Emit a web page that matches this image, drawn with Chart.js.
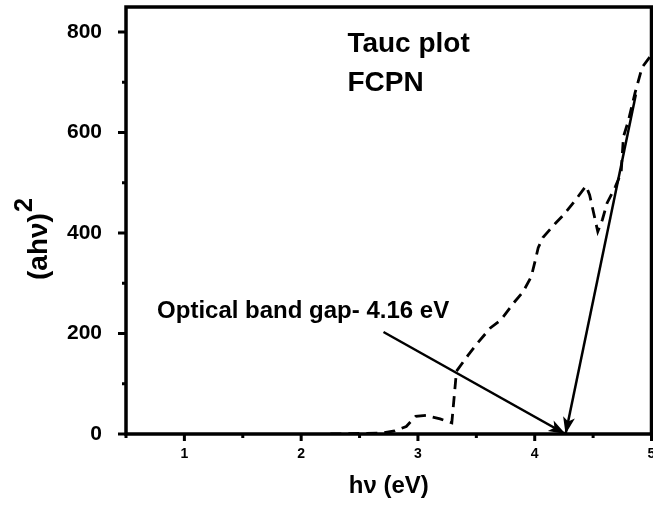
<!DOCTYPE html>
<html>
<head>
<meta charset="utf-8">
<script src="https://cdn.jsdelivr.net/npm/chart.js@4/dist/chart.umd.min.js"></script>
<style>
  html, body { margin: 0; padding: 0; background: #fff; overflow: hidden; }
  #wrap { width: 680px; height: 508px; }
</style>
</head>
<body>
<div id="wrap"><canvas id="tauc" width="680" height="508"></canvas></div>
<script>
// Tauc plot values
const hv   = [2.25, 2.5, 2.7, 2.8, 2.9, 2.98, 3.07, 3.19, 3.29, 3.33, 3.43, 3.51, 3.62, 3.71, 3.82, 3.9, 3.97, 4.0, 4.03, 4.07, 4.18, 4.25, 4.35, 4.44, 4.47, 4.54, 4.58, 4.62, 4.69, 4.74, 4.76, 4.8, 4.86, 4.92, 5.0];
const ahv2 = [0, 1, 2, 6, 15, 35, 37, 30, 22, 125, 157, 181, 211, 227, 261, 283, 313, 341, 371, 391, 420, 437, 466, 494, 476, 403, 427, 460, 492, 520, 592, 622, 680, 730, 755];

// band-gap arrows (start point, tip on the axis)
const arrow1X = [2.705, 4.264];
const arrow1Y = [203, 0];
const arrow2X = [4.866, 4.264];
const arrow2Y = [676, 0];

const xMajor = [1, 2, 3, 4, 5];
const xMinor = [0.5, 1.5, 2.5, 3.5, 4.5];
const yMajor = [0, 200, 400, 600, 800];
const yMinor = [100, 300, 500, 700];

const FONT = 'Arial, "Liberation Sans", sans-serif';

const toPts = (xs, ys) => xs.map((x, i) => ({ x: x, y: ys[i] }));

// frame, ticks, arrowheads and text labels
const decor = {
    id: 'decor',
    afterDatasetsDraw(chart) {
        const { ctx, chartArea: a, scales: { x, y } } = chart;
        ctx.save();
        ctx.strokeStyle = '#000';
        ctx.fillStyle = '#000';

        // frame
        ctx.lineWidth = 3.5;
        ctx.strokeRect(a.left, a.top, a.right - a.left, a.bottom - a.top);

        // ticks
        ctx.lineWidth = 3;
        ctx.beginPath();
        yMajor.forEach(v => { const p = y.getPixelForValue(v); ctx.moveTo(a.left - 8, p); ctx.lineTo(a.left, p); });
        yMinor.forEach(v => { const p = y.getPixelForValue(v); ctx.moveTo(a.left - 4, p); ctx.lineTo(a.left, p); });
        xMajor.forEach(v => { const p = x.getPixelForValue(v); ctx.moveTo(p, a.bottom); ctx.lineTo(p, a.bottom + 7); });
        xMinor.forEach(v => { const p = x.getPixelForValue(v); ctx.moveTo(p, a.bottom); ctx.lineTo(p, a.bottom + 4); });
        ctx.stroke();

        // arrowheads
        [[arrow1X, arrow1Y], [arrow2X, arrow2Y]].forEach(([ax, ay]) => {
            const x0 = x.getPixelForValue(ax[0]), y0 = y.getPixelForValue(ay[0]);
            const x1 = x.getPixelForValue(ax[1]), y1 = y.getPixelForValue(ay[1]);
            const ang = Math.atan2(y1 - y0, x1 - x0);
            const len = 17, half = 6;
            ctx.beginPath();
            ctx.moveTo(x1, y1);
            ctx.lineTo(x1 - len * Math.cos(ang) + half * Math.sin(ang), y1 - len * Math.sin(ang) - half * Math.cos(ang));
            ctx.lineTo(x1 - len * 0.75 * Math.cos(ang), y1 - len * 0.75 * Math.sin(ang));
            ctx.lineTo(x1 - len * Math.cos(ang) - half * Math.sin(ang), y1 - len * Math.sin(ang) + half * Math.cos(ang));
            ctx.closePath();
            ctx.fill();
        });

        // labels inside the plot
        ctx.textAlign = 'left';
        ctx.textBaseline = 'alphabetic';
        ctx.font = 'bold 28px ' + FONT;
        ctx.fillText('Tauc plot', x.getPixelForValue(2.396), y.getPixelForValue(760));
        ctx.fillText('FCPN', x.getPixelForValue(2.396), y.getPixelForValue(682));
        ctx.font = 'bold 24px ' + FONT;
        ctx.fillText('Optical band gap- 4.16 eV', x.getPixelForValue(0.766), y.getPixelForValue(231));

        // axis titles
        ctx.textAlign = 'center';
        ctx.font = 'bold 24px ' + FONT;
        ctx.fillText('h\u03bd (eV)', (a.left + a.right) / 2, 493);

        ctx.translate(47, 280);
        ctx.rotate(-Math.PI / 2);
        ctx.textAlign = 'left';
        ctx.font = 'bold 28px ' + FONT;
        ctx.fillText('(ah\u03bd)', 0, 0);
        const w = ctx.measureText('(ah\u03bd)').width;
        ctx.font = 'bold 25px ' + FONT;
        ctx.fillText('2', w + 1, -15);
        ctx.restore();
    }
};

new Chart(document.getElementById('tauc'), {
    type: 'line',
    data: {
        datasets: [
            {
                data: toPts(hv, ahv2),
                borderColor: '#000',
                borderWidth: 2.8,
                borderDash: [11, 7],
                pointRadius: 0,
                tension: 0
            },
            {
                data: toPts(arrow1X, arrow1Y),
                borderColor: '#000',
                borderWidth: 2.5,
                pointRadius: 0
            },
            {
                data: toPts(arrow2X, arrow2Y),
                borderColor: '#000',
                borderWidth: 2.5,
                pointRadius: 0
            }
        ]
    },
    options: {
        responsive: false,
        animation: false,
        layout: { padding: { left: 0, right: 28.5, top: 7, bottom: 0 } },
        plugins: { legend: { display: false }, tooltip: { enabled: false } },
        scales: {
            x: {
                type: 'linear',
                min: 0.5,
                max: 5,
                grid: { display: false },
                border: { display: false },
                ticks: {
                    stepSize: 0.5,
                    padding: 4,
                    color: '#000',
                    font: { family: FONT, size: 14, weight: 'bold' },
                    callback: v => Number.isInteger(v) ? v : ''
                },
                afterFit: s => { s.height = 74; s.paddingLeft = 0; s.paddingRight = 0; }
            },
            y: {
                min: 0,
                max: 850,
                grid: { display: false },
                border: { display: false },
                ticks: {
                    stepSize: 200,
                    includeBounds: false,
                    padding: 16,
                    color: '#000',
                    font: { family: FONT, size: 21, weight: 'bold' }
                },
                afterFit: s => { s.width = 126; s.paddingTop = 0; s.paddingBottom = 0; }
            }
        }
    },
    plugins: [decor]
});
</script>
</body>
</html>
